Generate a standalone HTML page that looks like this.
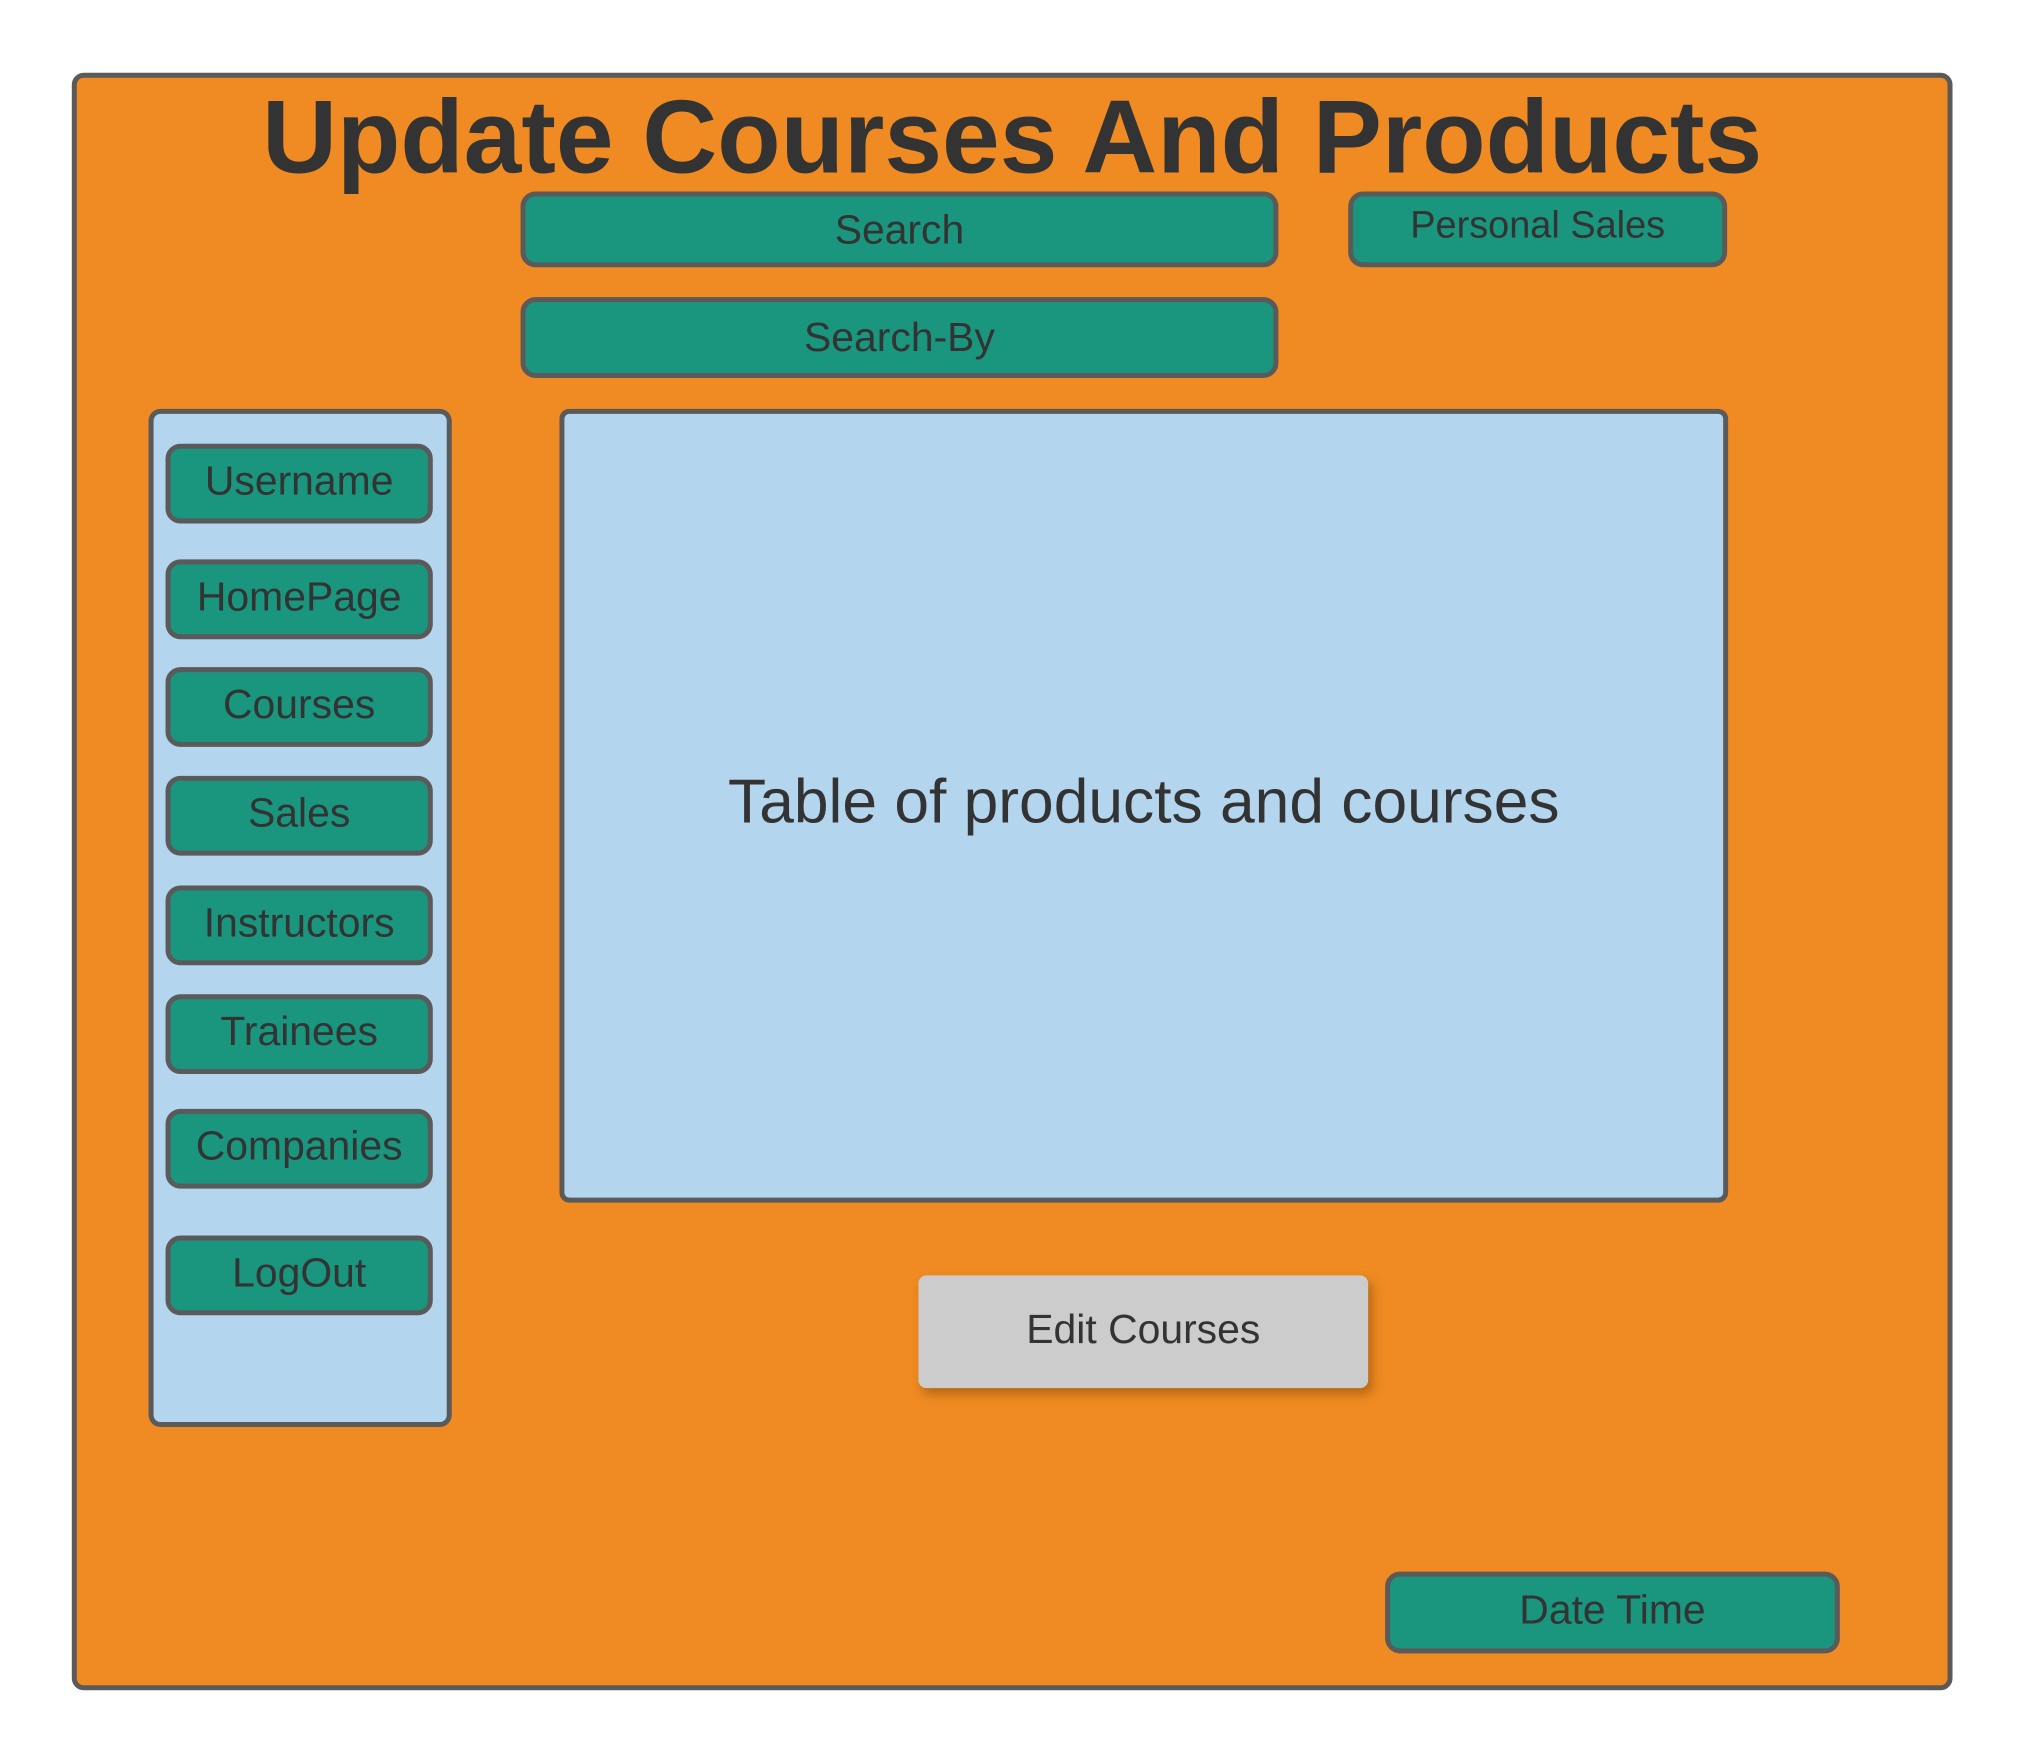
<!DOCTYPE html>
<html><head><meta charset="utf-8"><style>
html,body{margin:0;padding:0;background:#fff;width:2025px;height:1763px;overflow:hidden}
#w{position:absolute;left:0;top:0;width:2025px;height:1763px;transform:scale(0.9972);transform-origin:0 0}
#w div{position:absolute;box-sizing:border-box;font-family:"Liberation Sans",sans-serif;color:#333;display:flex;align-items:center;justify-content:center;white-space:nowrap}
#w .b{background:#19967d;border:5px solid #5a5a5a;border-radius:15px;font-size:41px}
#w .s{left:166px;width:268px}
</style></head><body><div id="w">
<div style="left:72px;top:73px;width:1886px;height:1622px;background:#ef8b22;border:5px solid #5a5a5a;border-radius:12px"></div>
<div style="left:74px;top:85px;width:1882px;height:106px;font-size:104px;font-weight:bold;color:#333">Update Courses And Products</div>
<div class="b" style="left:522px;top:192px;width:760px;height:76px">Search</div>
<div class="b" style="left:1352px;top:192px;width:380px;height:76px;padding-bottom:8px;font-size:38px">Personal Sales</div>
<div class="b" style="left:522px;top:298px;width:760px;height:81px">Search-By</div>
<div style="left:149px;top:410px;width:304px;height:1021px;background:#b3d5ee;border:5px solid #5a5a5a;border-radius:12px"></div>
<div class="b s" style="top:445px;height:80px;padding-bottom:6px">Username</div>
<div class="b s" style="top:561px;height:80px;padding-bottom:6px">HomePage</div>
<div class="b s" style="top:669px;height:80px;padding-bottom:6px">Courses</div>
<div class="b s" style="top:778px;height:80px;padding-bottom:6px">Sales</div>
<div class="b s" style="top:888px;height:80px;padding-bottom:6px">Instructors</div>
<div class="b s" style="top:997px;height:80px;padding-bottom:6px">Trainees</div>
<div class="b s" style="top:1112px;height:80px;padding-bottom:6px">Companies</div>
<div class="b s" style="top:1239px;height:80px;padding-bottom:6px">LogOut</div>
<div style="left:561px;top:410px;width:1172px;height:796px;background:#b3d5ee;border:5px solid #5a5a5a;border-radius:10px;font-size:62.5px;padding-bottom:8px">Table of products and courses</div>
<div style="left:921px;top:1279px;width:451px;height:113px;background:#cccccc;border-radius:8px;box-shadow:4px 6px 10px rgba(120,60,0,0.45);font-size:41px;padding-bottom:4px">Edit Courses</div>
<div class="b" style="left:1389px;top:1576px;width:456px;height:82px;padding-bottom:6px">Date Time</div>
</div></body></html>
